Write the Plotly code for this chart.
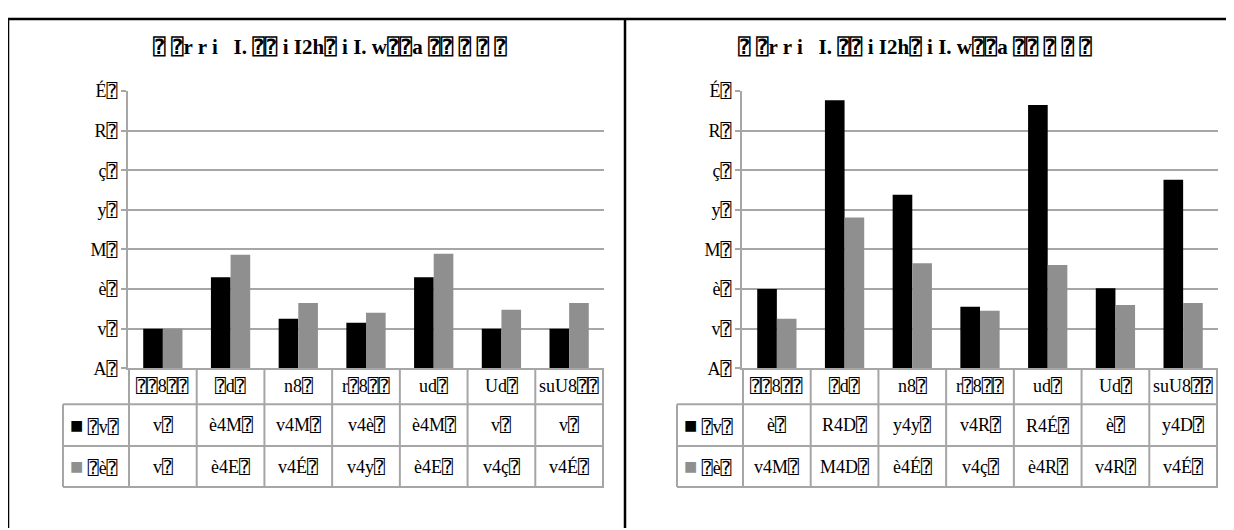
import plotly.graph_objects as go

# the page puts a margin round the figure and squeezes it a little in height,
# so layout positions are given in window pixels and mapped back onto the figure
OFF = 8
W, H = 1234 - 2 * OFF, 530
Y_SCALE, Y_SHIFT = 0.962, 17.2

# data (glyphs as they appear in the reference)
categories = ["⍰⍰8⍰⍰", "⍰d⍰", "n8⍰", "r⍰8⍰⍰", "ud⍰", "Ud⍰", "suU8⍰⍰"]
series_names = ["⍰v⍰", "⍰è⍰"]
title_text = "⍰ ⍰r r i \u00a0 I. ⍰⍰ i I2h⍰ i I. w⍰⍰a ⍰⍰ ⍰ ⍰ ⍰"
y_tickvals = [0, 1, 2, 3, 4, 5, 6, 7]
y_ticktext = ["A⍰", "v⍰", "è⍰", "M⍰", "y⍰", "ç⍰", "R⍰", "É⍰"]

left_black = [1.0, 2.3, 1.25, 1.15, 2.3, 1.0, 1.0]
left_gray = [1.0, 2.87, 1.65, 1.4, 2.89, 1.48, 1.65]
left_black_txt = ["v⍰", "è4M⍰", "v4M⍰", "v4è⍰", "è4M⍰", "v⍰", "v⍰"]
left_gray_txt = ["v⍰", "è4E⍰", "v4É⍰", "v4y⍰", "è4E⍰", "v4ç⍰", "v4É⍰"]

right_black = [2.0, 6.77, 4.38, 1.55, 6.65, 2.02, 4.76]
right_gray = [1.25, 3.81, 2.65, 1.45, 2.61, 1.6, 1.65]
right_black_txt = ["è⍰", "R4D⍰", "y4y⍰", "v4R⍰", "R4É⍰", "è⍰", "y4D⍰"]
right_gray_txt = ["v4M⍰", "M4D⍰", "è4É⍰", "v4ç⍰", "è4R⍰", "v4R⍰", "v4É⍰"]

colors = ["#000000", "#8f8f8f"]
grid_col = "#a6a6a6"
FONT = "Liberation Serif, Times New Roman, DejaVu Sans Mono, serif"


def px(x):
    return min(max((x - OFF) / W, 0), 1)


def py(y):
    yf = (y - Y_SHIFT) / Y_SCALE
    return min(max(1 - yf / H, 0), 1)


fig = go.Figure()

panels = [
    dict(ax="", x0=128, x1=604, lx=63, tx=330,
         vals=(left_black, left_gray), txt=(left_black_txt, left_gray_txt)),
    dict(ax="2", x0=742, x1=1218, lx=677, tx=915,
         vals=(right_black, right_gray), txt=(right_black_txt, right_gray_txt)),
]

y_top, y_bot = 89.5, 367
row1, row2, row3 = 403, 445, 486

shapes = []
annotations = []
tfont = dict(family=FONT, size=18, color="#000")

for p in panels:
    xa, ya = "x" + p["ax"], "y" + p["ax"]
    for i in range(2):
        fig.add_trace(go.Bar(
            x=categories, y=p["vals"][i], name=series_names[i],
            marker=dict(color=colors[i], line=dict(width=0)),
            xaxis=xa, yaxis=ya, showlegend=False,
        ))
    k = p["ax"]
    fig.layout["xaxis" + k] = dict(
        domain=[px(p["x0"]), px(p["x1"])], anchor=ya, type="category",
        showticklabels=False, showgrid=False, zeroline=False,
        showline=True, linecolor=grid_col, linewidth=2, fixedrange=True,
    )
    fig.layout["yaxis" + k] = dict(
        domain=[py(y_bot), py(y_top)], anchor=xa, range=[0, 7],
        tickvals=y_tickvals, ticktext=y_ticktext,
        showgrid=True, gridcolor=grid_col, gridwidth=2, zeroline=False,
        showline=True, linecolor=grid_col, linewidth=2,
        ticks="outside", ticklen=5, tickcolor=grid_col, tickwidth=2,
        tickfont=dict(family=FONT, size=18, color="#000"),
    )

    # title
    annotations.append(dict(
        text="<b>" + title_text + "</b>", x=px(p["tx"]), y=py(45),
        xref="paper", yref="paper", xanchor="center", yanchor="middle",
        showarrow=False, font=dict(family=FONT, size=21, color="#000"),
    ))

    # data table lines
    line = dict(color=grid_col, width=2)
    for j in range(len(categories) + 1):
        shapes.append(dict(type="line", xref=xa, yref="paper",
                           x0=j - 0.5, x1=j - 0.5, y0=py(y_bot), y1=py(row3), line=line))
    for yy in (row1, row2, row3):
        shapes.append(dict(type="line", xref="paper", yref="paper",
                           x0=px(p["lx"]), x1=px(p["x1"]), y0=py(yy), y1=py(yy), line=line))
    shapes.append(dict(type="line", xref="paper", yref="paper",
                       x0=px(p["lx"]), x1=px(p["lx"]), y0=py(row1), y1=py(row3), line=line))

    # table text
    rows_y = ((row1 + row2) / 2, (row2 + row3) / 2)
    for j, c in enumerate(categories):
        annotations.append(dict(text=c, x=j, y=py((y_bot + row1) / 2), xref=xa, yref="paper",
                                xanchor="center", yanchor="middle",
                                showarrow=False, font=tfont))
        for i, ry in enumerate(rows_y):
            annotations.append(dict(text=p["txt"][i][j], x=j, y=py(ry), xref=xa, yref="paper",
                                    xanchor="center", yanchor="middle",
                                    showarrow=False, font=tfont))
    for i, ry in enumerate(rows_y):
        annotations.append(dict(
            text="<span style='color:%s;font-size:22px'>■</span> %s" % (colors[i], series_names[i]),
            x=px(p["lx"] + 5), y=py(ry), xref="paper", yref="paper",
            xanchor="left", yanchor="middle", showarrow=False, font=tfont))

# page borders
bl = dict(color="#000", width=2.5)
shapes += [
    dict(type="line", xref="paper", yref="paper", x0=0, x1=1, y0=1, y1=1, line=bl),
    dict(type="line", xref="paper", yref="paper", x0=0, x1=0, y0=1, y1=0, line=bl),
    dict(type="line", xref="paper", yref="paper", x0=px(625), x1=px(625), y0=1, y1=0, line=bl),
]

fig.update_layout(
    width=W, height=H, margin=dict(l=0, r=0, t=0, b=0),
    paper_bgcolor="white", plot_bgcolor="white",
    barmode="group", bargap=0.42, bargroupgap=0,
    shapes=shapes, annotations=annotations,
    font=dict(family=FONT, color="#000"),
)

fig.write_html("out.html")
